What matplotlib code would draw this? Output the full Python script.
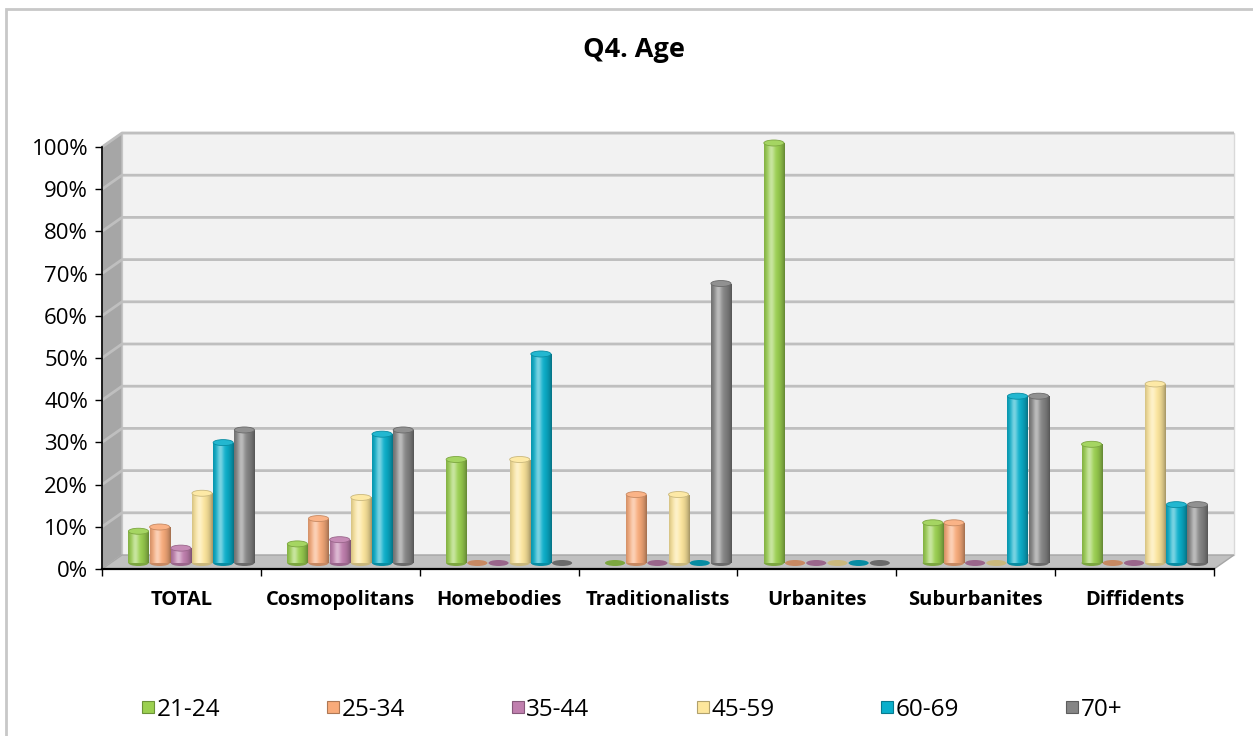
import numpy as np
import matplotlib
matplotlib.use("Agg")
import matplotlib.pyplot as plt
from matplotlib.patches import Rectangle, Ellipse, Polygon
from matplotlib.lines import Line2D
from matplotlib.colors import to_rgb

plt.rcParams['font.family'] = ['Open Sans', 'DejaVu Sans']

# ---------------- data ----------------
categories = ["TOTAL", "Cosmopolitans", "Homebodies", "Traditionalists",
              "Urbanites", "Suburbanites", "Diffidents"]
series_names = ["21-24", "25-34", "35-44", "45-59", "60-69", "70+"]
s_21_24 = [0.08, 0.05, 0.25, 0.00, 1.00, 0.10, 0.286]
s_25_34 = [0.09, 0.11, 0.00, 0.167, 0.00, 0.10, 0.00]
s_35_44 = [0.04, 0.06, 0.00, 0.00, 0.00, 0.00, 0.00]
s_45_59 = [0.17, 0.16, 0.25, 0.167, 0.00, 0.00, 0.429]
s_60_69 = [0.29, 0.31, 0.50, 0.00, 0.00, 0.40, 0.143]
s_70p = [0.32, 0.32, 0.00, 0.667, 0.00, 0.40, 0.143]
series_values = [s_21_24, s_25_34, s_35_44, s_45_59, s_60_69, s_70p]
yticks = [i / 10 for i in range(11)]
ytick_labels = [f"{i*10}%" for i in range(11)]
title = "Q4. Age"

colors = ["#9bd050", "#f9ab7a", "#c07fae", "#fde69c", "#0aafcb", "#858585"]

# ---------------- figure ----------------
W, H = 1253, 736
fig = plt.figure(figsize=(W / 100, H / 100), dpi=100)
fig.patch.set_facecolor("white")

# outer chart border (left/top visible)
fig.patches.append(Rectangle((6 / W, -0.1), 1.2, (H - 9) / H + 0.1,
                             transform=fig.transFigure, fill=False,
                             edgecolor="#c8c8c8", lw=2))

ax_l, ax_r, ax_b, ax_t = 102, 1214, 569, 147
ax = fig.add_axes([ax_l / W, (H - ax_b) / H, (ax_r - ax_l) / W, (ax_b - ax_t) / H])
ax.set_facecolor("none")
n_cat = len(categories)
x0, x1 = -0.5, n_cat - 0.5
ax.set_xlim(x0, x1)
ax.set_ylim(0, 1)

# 3D depth offset in data units
px_x = (ax_r - ax_l) / n_cat
px_y = (ax_b - ax_t)
DX = 20 / px_x
DY = 14 / px_y

# back wall
ax.add_patch(Polygon([(x0 + DX, DY), (x1 + DX, DY), (x1 + DX, 1 + DY), (x0 + DX, 1 + DY)],
                     closed=True, facecolor="#f2f2f2", edgecolor="#d9d9d9", lw=1,
                     zorder=0, clip_on=False))
# side wall
ax.add_patch(Polygon([(x0, 0), (x0, 1), (x0 + DX, 1 + DY), (x0 + DX, DY)],
                     closed=True, facecolor="#a6a6a6", edgecolor="#bfbfbf", lw=1,
                     zorder=1, clip_on=False))
# gridlines on back and side walls
for yv in yticks[1:]:
    ax.plot([x0, x0 + DX, x1 + DX], [yv, yv + DY, yv + DY], color="#bfbfbf",
            lw=2, zorder=1, clip_on=False, solid_capstyle="butt")
# floor
ax.add_patch(Polygon([(x0, 0), (x1, 0), (x1 + DX, DY), (x0 + DX, DY)],
                     closed=True, facecolor="#c0c0c0", edgecolor="#a6a6a6", lw=1,
                     zorder=1, clip_on=False))


def shade(base, t):
    b = np.array(to_rgb(base))
    hl = np.exp(-((t - 0.35) / 0.17) ** 2)
    edge = (np.abs(t - 0.42) / 0.58) ** 2.5
    c = b[None, :] * (1 - 0.35 * edge[:, None]) + (1 - b[None, :]) * 0.45 * hl[:, None]
    return np.clip(c, 0, 1)


n_ser = len(series_values)
bw = 1 / 7.5
cap_h = 6 / px_y
t = np.linspace(0, 1, 64)
z = 3
for ci in range(n_cat):
    for si in range(n_ser):
        v = series_values[si][ci]
        col = colors[si]
        cx = ci + (si - (n_ser - 1) / 2) * bw + DX / 2
        base_y = DY / 2 - 1 / px_y
        dark = np.array(to_rgb(col)) * 0.8
        light = np.clip(np.array(to_rgb(col)) * 0.9 + 0.1, 0, 1)
        if v <= 0.001:
            ax.add_patch(Ellipse((cx, base_y), bw * 0.95, cap_h, facecolor=dark,
                                 edgecolor="none", zorder=z, clip_on=False))
            z += 1
            continue
        # bottom cap
        ax.add_patch(Ellipse((cx, base_y), bw * 0.95, cap_h, facecolor=dark,
                             edgecolor="none", zorder=z, clip_on=False))
        # body with gradient
        top = base_y + v - 2 / px_y
        grad = shade(col, t)[None, :, :]
        rect = Rectangle((cx - bw * 0.475, base_y), bw * 0.95, top - base_y, transform=ax.transData)
        im = ax.imshow(grad, extent=[cx - bw * 0.475, cx + bw * 0.475, base_y, top],
                       aspect="auto", origin="lower", zorder=z + 0.1, interpolation="bilinear")
        im.set_clip_path(rect)
        # top cap
        ax.add_patch(Ellipse((cx, top), bw * 0.95, cap_h, facecolor=light,
                             edgecolor=dark, lw=0.6, zorder=z + 0.2, clip_on=False))
        z += 1

ax.set_xlim(x0, x1)
ax.set_ylim(0, 1)

# axes styling
for s in ["top", "right"]:
    ax.spines[s].set_visible(False)
ax.spines["left"].set_color("black")
ax.spines["bottom"].set_color("black")
ax.spines["left"].set_linewidth(1.2)
ax.spines["bottom"].set_linewidth(1.6)
ax.spines["left"].set_zorder(50)
ax.spines["bottom"].set_zorder(50)
ax.set_yticks(yticks)
ax.set_yticklabels(ytick_labels, fontsize=16)
ax.tick_params(axis="y", direction="out", length=5, width=1, pad=5, colors="black")
ax.set_xticks(range(n_cat))
ax.set_xticklabels(categories, fontsize=14.5, fontweight="bold")
ax.set_xticks(np.arange(n_cat + 1) - 0.5, minor=True)
ax.tick_params(axis="x", which="major", length=0, pad=15)
ax.tick_params(axis="x", which="minor", direction="out", length=5, width=1)

fig.text(634 / W, (H - 50) / H, title, ha="center", va="center",
         fontsize=19.5, fontweight="bold")

handles = [Line2D([], [], linestyle="none", marker="s", markersize=8,
                  markerfacecolor=c, markeredgecolor=np.array(to_rgb(c)) * 0.7,
                  markeredgewidth=0.8) for c in colors]
fig.legend(handles, series_names, loc="center", bbox_to_anchor=(632 / W, (H - 710) / H),
           ncol=6, frameon=False, fontsize=17.5, handlelength=0.5, handletextpad=0.1,
           columnspacing=4.4, borderaxespad=0)

fig.savefig("out.png", dpi=100)
